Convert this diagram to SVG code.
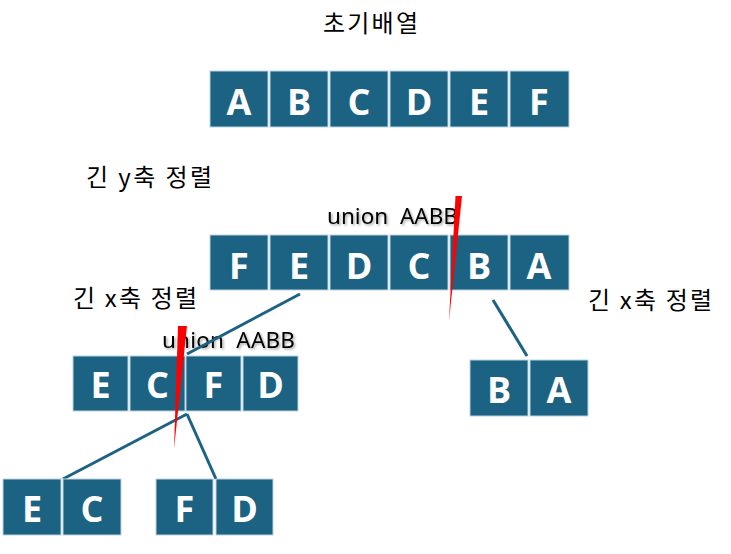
<svg xmlns="http://www.w3.org/2000/svg" width="731" height="554" viewBox="0 0 731 554">
<defs>
<style>
.box{fill:#1b6283;stroke:#b9d3e0;stroke-width:1}
.lt{font-family:"Open Sans","Liberation Sans",sans-serif;font-weight:bold;font-size:36px;fill:#ffffff;text-anchor:middle}
.kr{font-family:"Noto Sans CJK KR","Noto Sans",sans-serif;font-size:24px;fill:#000000}
.un{font-family:"Noto Sans","Noto Sans CJK KR",sans-serif;font-size:22.5px;fill:#000000;filter:url(#sh);white-space:pre}
.ln{stroke:#1b6283;stroke-width:3;fill:none}
.cut{fill:#ff0000}
</style>
<filter id="sh" x="-10%" y="-30%" width="130%" height="170%">
<feDropShadow dx="1.5" dy="1.5" stdDeviation="1" flood-color="#000000" flood-opacity="0.35"/>
</filter>
</defs>
<rect width="731" height="554" fill="#ffffff"/>

<g id="labels">
<text class="kr" x="323" y="32" textLength="95" lengthAdjust="spacing">초기배열</text>
<text class="kr" x="86" y="186" textLength="126" lengthAdjust="spacing">긴 y축 정렬</text>
<text class="kr" x="73" y="307" textLength="124" lengthAdjust="spacing">긴 x축 정렬</text>
<text class="kr" x="588" y="309" textLength="124" lengthAdjust="spacing">긴 x축 정렬</text>
<text class="un" x="327" y="224" textLength="131" lengthAdjust="spacing" xml:space="preserve">union  AABB</text>
<text class="un" x="162" y="348" textLength="133" lengthAdjust="spacing" xml:space="preserve">union  AABB</text>
</g>

<g id="connectors">
<line class="ln" x1="300" y1="294" x2="187" y2="354"/>
<line class="ln" x1="493" y1="300" x2="527" y2="356"/>
<line class="ln" x1="187" y1="414" x2="63" y2="479"/>
<line class="ln" x1="187" y1="414" x2="216" y2="479"/>
</g>

<g id="initial-array">
<rect class="box" x="210" y="71" width="58" height="56"/><text class="lt" x="239" y="115">A</text>
<rect class="box" x="270" y="71" width="58" height="56"/><text class="lt" x="299" y="115">B</text>
<rect class="box" x="330" y="71" width="58" height="56"/><text class="lt" x="359" y="115">C</text>
<rect class="box" x="390" y="71" width="58" height="56"/><text class="lt" x="419" y="115">D</text>
<rect class="box" x="450" y="71" width="58" height="56"/><text class="lt" x="479" y="115">E</text>
<rect class="box" x="510" y="71" width="59" height="56"/><text class="lt" x="539" y="115">F</text>
</g>

<g id="y-sorted">
<rect class="box" x="210" y="235" width="58" height="55"/><text class="lt" x="239" y="279">F</text>
<rect class="box" x="270" y="235" width="58" height="55"/><text class="lt" x="299" y="279">E</text>
<rect class="box" x="330" y="235" width="58" height="55"/><text class="lt" x="359" y="279">D</text>
<rect class="box" x="390" y="235" width="58" height="55"/><text class="lt" x="419" y="279">C</text>
<rect class="box" x="450" y="235" width="58" height="55"/><text class="lt" x="479" y="279">B</text>
<rect class="box" x="510" y="235" width="59" height="55"/><text class="lt" x="539" y="279">A</text>
</g>

<g id="x-sorted-left">
<rect class="box" x="73" y="356" width="55" height="55"/><text class="lt" x="100.5" y="398">E</text>
<rect class="box" x="130" y="356" width="55" height="55"/><text class="lt" x="157.5" y="398">C</text>
<rect class="box" x="186" y="356" width="55" height="55"/><text class="lt" x="213.5" y="398">F</text>
<rect class="box" x="243" y="356" width="55" height="55"/><text class="lt" x="270.5" y="398">D</text>
</g>

<g id="x-sorted-right">
<rect class="box" x="470" y="360" width="58" height="56"/><text class="lt" x="499" y="403">B</text>
<rect class="box" x="530" y="360" width="58" height="56"/><text class="lt" x="559" y="403">A</text>
</g>

<g id="leaf-ec">
<rect class="box" x="3" y="479" width="58" height="56"/><text class="lt" x="32" y="522">E</text>
<rect class="box" x="63" y="479" width="58" height="56"/><text class="lt" x="92" y="522">C</text>
</g>

<g id="leaf-fd">
<rect class="box" x="156" y="479" width="57" height="56"/><text class="lt" x="184.5" y="522">F</text>
<rect class="box" x="216" y="479" width="57" height="56"/><text class="lt" x="244.5" y="522">D</text>
</g>

<g id="split-marks">
<polygon class="cut" points="455.5,196 462,196 449,321"/>
<polygon class="cut" points="178,326 187,326 174,449"/>
</g>
</svg>
